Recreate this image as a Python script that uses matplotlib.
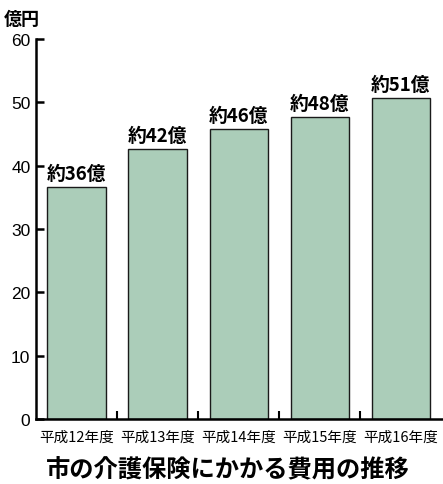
import matplotlib.pyplot as plt

plt.rcParams['font.family'] = ['Noto Sans CJK JP', 'DejaVu Sans']

# Daten
years = ["平成12年度", "平成13年度", "平成14年度", "平成15年度", "平成16年度"]
costs = [36.6, 42.6, 45.8, 47.7, 50.7]
bar_labels = ["約36億", "約42億", "約46億", "約48億", "約51億"]
yticks = [0, 10, 20, 30, 40, 50, 60]

fig = plt.figure(figsize=(4.43, 4.85), dpi=100)
ax = fig.add_axes([36 / 443, 1 - 420 / 485, 1 - 36 / 443, 380 / 485])

x = list(range(len(years)))
ax.bar(x, costs, width=0.72, color="#abcdb9", edgecolor="#1a1a1a", linewidth=1.0)

# Beschriftung über den Balken
for xi, v, lab in zip(x, costs, bar_labels):
    ax.annotate(lab, (xi, v), xytext=(0, 3), textcoords="offset points",
                ha="center", va="bottom", fontsize=13.5, fontweight="bold")

ax.set_xlim(-0.5, 4.52)
ax.set_ylim(0, 60)
ax.set_yticks(yticks)
ax.set_yticklabels([str(t) for t in yticks], family=["Liberation Sans"], fontsize=12.5)
ax.set_xticks(x)
ax.set_xticklabels(years, fontsize=10.5)
ax.tick_params(axis="x", length=0, pad=8)
ax.set_xticks([0.5, 1.5, 2.5, 3.5], minor=True)
ax.tick_params(axis="x", which="minor", direction="in", length=6, width=1.5)
ax.tick_params(axis="y", direction="in", length=6, width=1.8, pad=4)

for s in ["top", "right"]:
    ax.spines[s].set_visible(False)
ax.spines["left"].set_linewidth(1.8)
ax.spines["bottom"].set_linewidth(1.8)

fig.text(4 / 443, 1 - 19 / 485, "億円", fontsize=13, fontweight="bold", va="center")
fig.text(0.515, 1 - 470 / 485, "市の介護保険にかかる費用の推移", fontsize=17.5,
         fontweight="bold", ha="center", va="center")

fig.savefig("out.png", dpi=100)
